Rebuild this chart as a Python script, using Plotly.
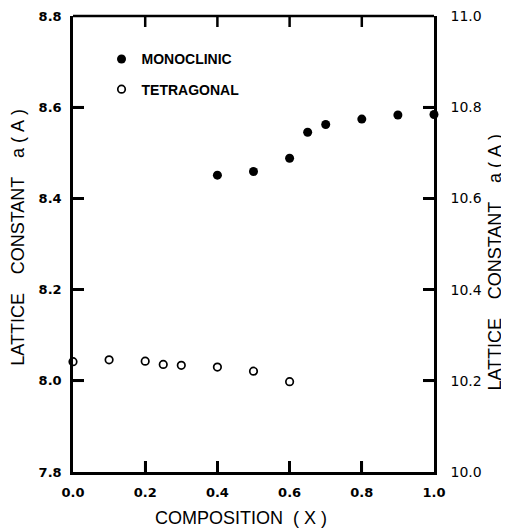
import plotly.graph_objects as go

# Monoclinic (right axis, lattice constant a in A)
mono_x = [0.4, 0.5, 0.6, 0.65, 0.7, 0.8, 0.9, 1.0]
mono_a = [10.651, 10.659, 10.688, 10.745, 10.762, 10.774, 10.783, 10.784]

# Tetragonal (left axis)
tetra_x = [0.0, 0.1, 0.2, 0.25, 0.3, 0.4, 0.5, 0.6]
tetra_a = [8.042, 8.046, 8.043, 8.036, 8.034, 8.030, 8.021, 7.998]

x_ticks = [0.0, 0.2, 0.4, 0.6, 0.8, 1.0]
left_ticks = [7.8, 8.0, 8.2, 8.4, 8.6, 8.8]
right_ticks = [10.0, 10.2, 10.4, 10.6, 10.8, 11.0]

NB = "\u00a0"
y_title = "LATTICE" + NB * 3 + "\u2009CONSTANT" + NB * 3 + "\u2009a" + NB + "(" + NB + "A" + NB + ")"
x_title = "COMPOSITION" + NB * 2 + "(" + NB + "X" + NB + ")"

boldtick = dict(family="DejaVu Sans", size=13, color="black", weight="bold")
righttick = dict(family="DejaVu Sans", size=14, color="black")
titlefont = dict(family="Liberation Sans", size=18, color="black")

W, H = 509, 530
ML, MR, MT, MB = 65, 83, 8, 66
plot_w = W - ML - MR
plot_h = H - MT - MB
TICK = 11
tx = TICK / plot_w
ty = TICK / plot_h

fig = go.Figure()
fig.add_trace(go.Scatter(
    x=mono_x, y=mono_a, mode="markers", name="MONOCLINIC",
    xaxis="x", yaxis="y2", legendgroup="m",
    marker=dict(symbol="circle", size=9, color="black"), cliponaxis=False))
fig.add_trace(go.Scatter(
    x=tetra_x, y=tetra_a, mode="markers", name="TETRAGONAL",
    xaxis="x", yaxis="y", legendgroup="t",
    marker=dict(symbol="circle-open", size=7.5, color="black", line=dict(width=1.7)),
    cliponaxis=False))

axis_common = dict(ticks="inside", ticklen=TICK, tickwidth=2.5, tickcolor="#000000",
                   showline=True, linecolor="black", linewidth=2.5,
                   showgrid=False, zeroline=False, tickformat=".1f",
                   ticklabeloverflow="allow")

# frame top edge and tick marks as line shapes tied to the axes' tick values
tick_line = dict(color="black", width=2.5)
shapes = [dict(type="line", xref="paper", yref="paper", x0=0, x1=1, y0=1, y1=1,
               line=tick_line, layer="above")]
for v in x_ticks[1:-1]:
    shapes.append(dict(type="line", xref="x", yref="paper", x0=v, x1=v, y0=0, y1=ty,
                       line=tick_line, layer="above"))
    shapes.append(dict(type="line", xref="x", yref="paper", x0=v, x1=v, y0=1 - ty, y1=1,
                       line=tick_line, layer="above"))
for v in left_ticks[1:-1]:
    shapes.append(dict(type="line", xref="paper", yref="y", x0=0, x1=tx, y0=v, y1=v,
                       line=tick_line, layer="above"))
for v in right_ticks[1:-1]:
    shapes.append(dict(type="line", xref="paper", yref="y2", x0=1 - tx, x1=1.008, y0=v, y1=v,
                       line=tick_line, layer="above"))

fig.update_layout(
    width=W, height=H,
    margin=dict(l=ML, r=MR, t=MT, b=MB, autoexpand=False),
    paper_bgcolor="white", plot_bgcolor="rgba(0,0,0,0)",
    showlegend=True,
    legend=dict(x=0.079, y=0.94, xanchor="left", yanchor="top",
                bgcolor="rgba(0,0,0,0)", tracegroupgap=9,
                font=dict(family="Liberation Sans", size=14, color="black", weight="bold"),
                traceorder="grouped"),
    xaxis=dict(range=[0, 1], tickvals=x_ticks,
               tickfont=boldtick, ticklabelstandoff=7, **axis_common),
    yaxis=dict(range=[7.8, 8.8], tickvals=left_ticks,
               tickfont=boldtick, ticklabelstandoff=6, **axis_common),
    yaxis2=dict(range=[10.0, 11.0], tickvals=right_ticks,
                overlaying="y", side="right",
                tickfont=righttick, ticklabelstandoff=11, **axis_common),
    shapes=shapes,
    annotations=[
        dict(text=y_title, xref="paper", yref="paper", x=-0.151, y=0.515,
             textangle=-90, showarrow=False, xanchor="center", yanchor="middle",
             font=titlefont),
        dict(text=y_title, xref="paper", yref="paper", x=1.17, y=0.46,
             textangle=-90, showarrow=False, xanchor="center", yanchor="middle",
             font=titlefont),
        dict(text=x_title, xref="paper", yref="paper", x=0.464, y=-0.100,
             showarrow=False, xanchor="center", yanchor="middle",
             font=titlefont),
    ],
)

fig.write_html("out.html")
